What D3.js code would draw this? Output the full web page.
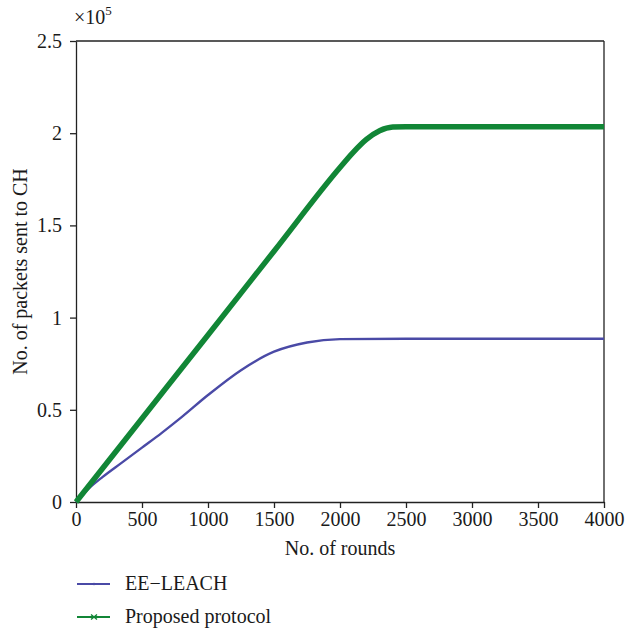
<!DOCTYPE html>
<html>
<head>
<meta charset="utf-8">
<script src="https://cdn.jsdelivr.net/npm/d3@7"></script>
<style>
  html, body { margin: 0; padding: 0; background: #fff; }
  svg { display: block; }
  text { font-family: "Liberation Serif", "DejaVu Serif", serif; fill: #1a1a1a; }
</style>
</head>
<body>
<svg id="chart" width="637" height="633"></svg>
<script>
// Rounds and packets sent to cluster heads for each protocol
const eeRounds   = [0, 100, 200, 350, 500, 650, 800, 1000, 1250, 1500, 1750, 2000, 2500, 4000];
const eePackets  = [0, 7500, 13500, 21500, 29500, 37500, 46000, 58000, 71500, 81500, 86500, 88300, 88500, 88500];

const propRounds  = [0, 500, 1000, 1500, 2000, 2100, 2200, 2300, 2400, 2500, 4000];
const propPackets = [0, 45300, 90600, 136000, 181400, 189600, 196600, 201300, 203300, 203500, 203500];

const xTicks = [0, 500, 1000, 1500, 2000, 2500, 3000, 3500, 4000];
const yTicks = [0, 50000, 100000, 150000, 200000, 250000];
const yTickLabels = ["0", "0.5", "1", "1.5", "2", "2.5"];

const seriesNames = ["EE\u2212LEACH", "Proposed protocol"];
const seriesColors = ["#4a4aa6", "#118636"];

const FONT = 20;
const margin = { left: 76, right: 33, top: 41, bottom: 131 };
const W = 637, H = 633;
const innerW = W - margin.left - margin.right;
const innerH = H - margin.top - margin.bottom;

const svg = d3.select("#chart");
const g = svg.append("g").attr("transform", `translate(${margin.left},${margin.top})`);

const x = d3.scaleLinear().domain([0, 4000]).range([0, innerW]);
const y = d3.scaleLinear().domain([0, 250000]).range([innerH, 0]);

// Axes
const xAxis = d3.axisBottom(x).tickValues(xTicks).tickSize(6).tickSizeOuter(0).tickPadding(4).tickFormat(d3.format("d"));
const yAxis = d3.axisLeft(y).tickValues(yTicks).tickSize(6).tickSizeOuter(0).tickPadding(8)
  .tickFormat((d, i) => yTickLabels[i]);

const gx = g.append("g").attr("transform", `translate(0,${innerH})`).call(xAxis);
const gy = g.append("g").call(yAxis);
[gx, gy].forEach(a => {
  a.selectAll("path, line").attr("stroke", "#222").attr("stroke-width", 1.3);
  a.selectAll("text").attr("font-size", FONT).attr("fill", "#1a1a1a")
    .style("font-family", '"Liberation Serif", "DejaVu Serif", serif');
});

// Frame on top and right
g.append("line").attr("x1", 0).attr("x2", innerW).attr("y1", 0).attr("y2", 0)
  .attr("stroke", "#222").attr("stroke-width", 1.3);
g.append("line").attr("x1", innerW).attr("x2", innerW).attr("y1", 0).attr("y2", innerH)
  .attr("stroke", "#222").attr("stroke-width", 1.3);

// Lines
const line = d3.line().x(d => x(d[0])).y(d => y(d[1])).curve(d3.curveMonotoneX);
const eeData = eeRounds.map((r, i) => [r, eePackets[i]]);
const propData = propRounds.map((r, i) => [r, propPackets[i]]);

g.append("path").datum(eeData).attr("d", line)
  .attr("fill", "none").attr("stroke", seriesColors[0]).attr("stroke-width", 2.4);
g.append("path").datum(propData).attr("d", line)
  .attr("fill", "none").attr("stroke", seriesColors[1]).attr("stroke-width", 5.5)
  .attr("stroke-linejoin", "round");

// Axis titles
svg.append("text").attr("x", margin.left + innerW / 2).attr("y", 555)
  .attr("text-anchor", "middle").attr("font-size", FONT).text("No. of rounds");
svg.append("text")
  .attr("transform", `translate(27,${margin.top + innerH / 2}) rotate(-90)`)
  .attr("text-anchor", "middle").attr("font-size", FONT).text("No. of packets sent to CH");

// Exponent label
const expo = svg.append("text").attr("x", 74).attr("y", 24).attr("font-size", FONT);
expo.append("tspan").text("\u00d710");
expo.append("tspan").attr("dy", -9).attr("font-size", 13).text("5");

// Legend
const legend = svg.append("g");
const legendY = [584, 617];
seriesNames.forEach((name, i) => {
  const ly = legendY[i];
  legend.append("line").attr("x1", 77).attr("x2", 110).attr("y1", ly).attr("y2", ly)
    .attr("stroke", seriesColors[i]).attr("stroke-width", 1.8);
  if (i === 0) {
    legend.append("circle").attr("cx", 94).attr("cy", ly).attr("r", 1.2).attr("fill", seriesColors[i]);
  } else {
    legend.append("path").attr("d", `M91,${ly - 2.5}L97,${ly + 2.5}M91,${ly + 2.5}L97,${ly - 2.5}`)
      .attr("stroke", seriesColors[i]).attr("stroke-width", 1.4);
  }
  legend.append("text").attr("x", 125).attr("y", ly + 6).attr("font-size", FONT).text(name);
});
</script>
</body>
</html>
